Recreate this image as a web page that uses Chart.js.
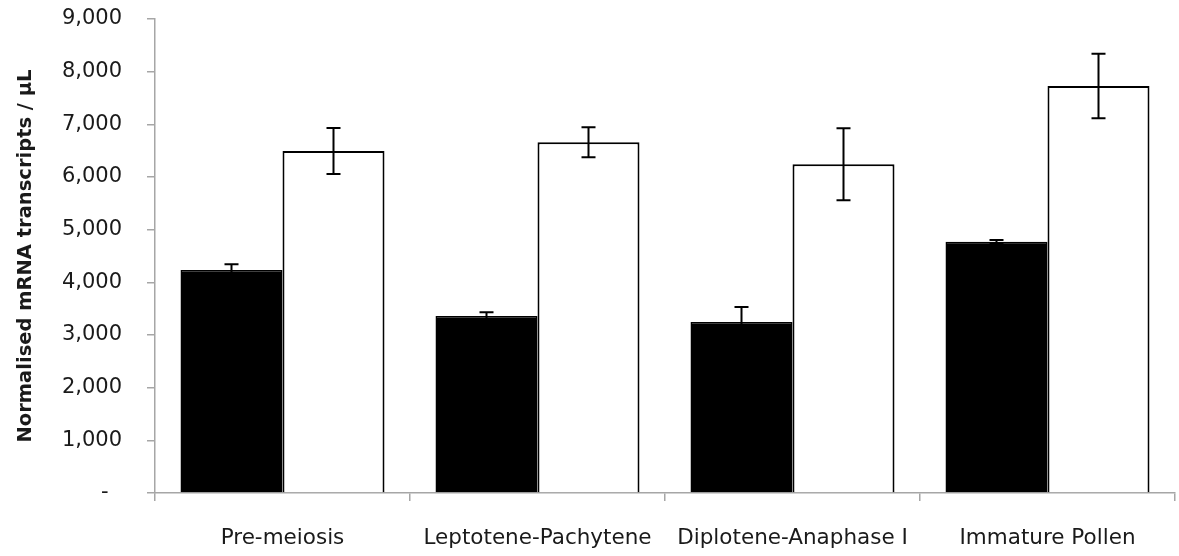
<!DOCTYPE html>
<html>
<head>
<meta charset="utf-8">
<script src="https://cdn.jsdelivr.net/npm/chart.js@4/dist/chart.umd.min.js"></script>
<style>
  html, body { margin: 0; padding: 0; background: #fff; }
  #wrap { width: 1179px; height: 556px; }
</style>
</head>
<body>
<div id="wrap"><canvas id="c" width="1179" height="556"></canvas></div>
<script>
const categories = ['Pre-meiosis', 'Leptotene-Pachytene', 'Diplotene-Anaphase I', 'Immature Pollen'];
const blackValues = [4234, 3361, 3247, 4772];
const blackErrors = [108, 70, 285, 33];
const whiteValues = [6494, 6659, 6241, 7728];
const whiteErrors = [437, 285, 684, 613];
const yTicks = [0, 1000, 2000, 3000, 4000, 5000, 6000, 7000, 8000, 9000];

const AXIS_GREY = '#a6a6a6';
const TEXT = '#1a1a1a';

const errorBarPlugin = {
  id: 'errorBars',
  afterDatasetsDraw(chart) {
    const ctx = chart.ctx;
    const yScale = chart.scales.y;
    chart.data.datasets.forEach((ds, i) => {
      const meta = chart.getDatasetMeta(i);
      meta.data.forEach((bar, j) => {
        const v = ds.data[j];
        const e = ds.errors[j];
        const x = bar.x;
        const yTop = yScale.getPixelForValue(v + e);
        const yBot = yScale.getPixelForValue(v - e);
        ctx.save();
        ctx.strokeStyle = '#000';
        ctx.lineWidth = 2;
        ctx.beginPath();
        ctx.moveTo(x, yTop); ctx.lineTo(x, yBot);
        ctx.moveTo(x - 7, yTop); ctx.lineTo(x + 7, yTop);
        ctx.moveTo(x - 7, yBot); ctx.lineTo(x + 7, yBot);
        ctx.stroke();
        ctx.restore();
      });
    });
  }
};

new Chart(document.getElementById('c'), {
  type: 'bar',
  data: {
    labels: categories,
    datasets: [
      { label: 'A', data: blackValues, errors: blackErrors, backgroundColor: '#000', borderColor: '#000', borderWidth: 1.5 },
      { label: 'B', data: whiteValues, errors: whiteErrors, backgroundColor: '#fff', borderColor: '#000', borderWidth: 2 }
    ]
  },
  options: {
    responsive: false,
    animation: false,
    events: [],
    layout: { padding: { top: 19, right: 4, bottom: 0, left: 0 } },
    plugins: { legend: { display: false }, tooltip: { enabled: false } },
    datasets: { bar: { categoryPercentage: 0.8, barPercentage: 1.0 } },
    scales: {
      x: {
        grid: { display: true, drawOnChartArea: false, drawTicks: true, tickLength: 8, color: AXIS_GREY, lineWidth: 1.5, offset: true },
        border: { display: true, color: AXIS_GREY, width: 1.5 },
        ticks: { color: TEXT, font: { family: 'DejaVu Sans', size: 21.5 }, padding: 25, maxRotation: 0, autoSkip: false },
        afterFit(scale) { scale.height = 63; scale.paddingLeft = 0; scale.paddingRight = 0; }
      },
      y: {
        min: 0, max: 9000,
        afterBuildTicks(scale) { scale.ticks = yTicks.map(v => ({ value: v })); },
        grid: { display: true, drawOnChartArea: false, drawTicks: true, tickLength: 8, color: AXIS_GREY, lineWidth: 1.5 },
        border: { display: true, color: AXIS_GREY, width: 1.5 },
        ticks: {
          color: TEXT,
          font: { family: 'DejaVu Sans', size: 21 },
          padding: 25,
          callback: (v) => v === 0 ? '-  ' : v.toLocaleString('en-US')
        },
        title: {
          display: true,
          text: 'Normalised mRNA transcripts / µL',
          color: TEXT,
          font: { family: 'DejaVu Sans', size: 19.5, weight: 'bold' },
          padding: { top: 14, bottom: 0 }
        },
        afterFit(scale) { scale.width = 155; scale.paddingTop = 0; scale.paddingBottom = 0; }
      }
    }
  },
  plugins: [errorBarPlugin]
});
</script>
</body>
</html>
